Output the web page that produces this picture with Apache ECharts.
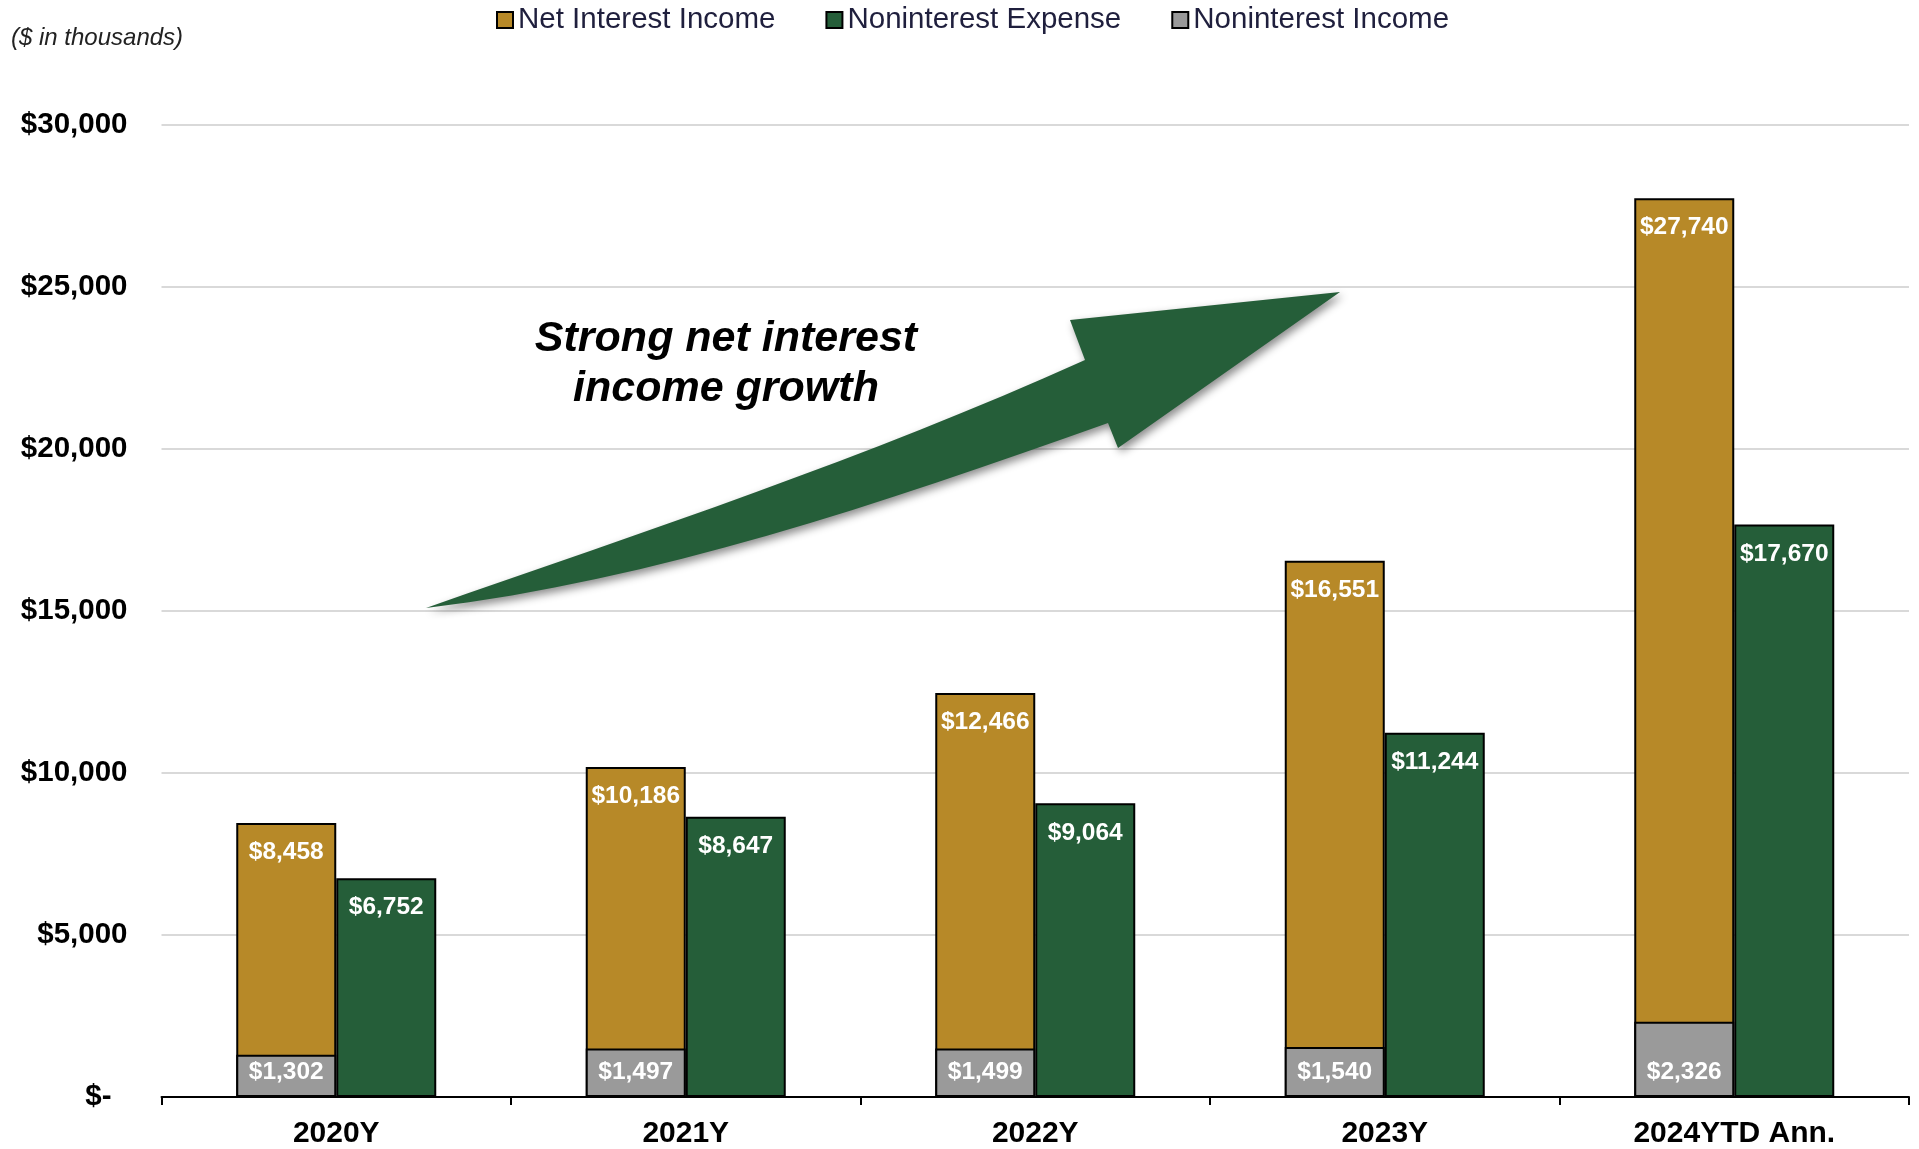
<!DOCTYPE html>
<html>
<head>
<meta charset="utf-8">
<title>Net Interest Income vs. Noninterest Expense</title>
<script src="https://cdn.jsdelivr.net/npm/echarts@6/dist/echarts.min.js"></script>
<style>
  html, body { margin: 0; padding: 0; background: #ffffff; }
  #chart { width: 1919px; height: 1149px; }
</style>
</head>
<body>
<div id="chart"></div>
<script>
// Annual figures, $ in thousands
const categories = ['2020Y', '2021Y', '2022Y', '2023Y', '2024YTD Ann.'];
const netInterestIncome = [8458, 10186, 12466, 16551, 27740];
const noninterestExpense = [6752, 8647, 9064, 11244, 17670];
const noninterestIncome = [1302, 1497, 1499, 1540, 2326];

const FONT = '"Liberation Sans", Arial, Helvetica, sans-serif';
const GOLD = '#B78928';
const GREEN = '#255E39';
const GREY = '#9A9A9A';

const money = v => '$' + Number(v).toLocaleString('en-US');

// Curved "growth" arrow used as an annotation shape
echarts.graphic.registerShape('growthArrow', echarts.graphic.extendShape({
  shape: {},
  buildPath: function (ctx) {
    ctx.moveTo(426, 608);
    ctx.bezierCurveTo(646, 531, 865, 459, 1085, 360);
    ctx.lineTo(1070, 320);
    ctx.lineTo(1340, 292);
    ctx.lineTo(1118, 448);
    ctx.lineTo(1108, 423);
    ctx.bezierCurveTo(878, 505, 656, 580, 426, 608);
    ctx.closePath();
  }
}));

const valueLabel = (position, distance) => ({
  show: true,
  position: position,
  distance: distance,
  color: '#ffffff',
  fontFamily: FONT,
  fontWeight: 'bold',
  fontSize: 24.5,
  formatter: p => money(p.value)
});

const barBase = {
  type: 'bar',
  barWidth: 100,
  barGap: '0%'
};

const chart = echarts.init(document.getElementById('chart'), null, { renderer: 'canvas' });

chart.setOption({
  animation: false,
  backgroundColor: '#ffffff',
  textStyle: { fontFamily: FONT },
  legend: {
    data: ['Net Interest Income', 'Noninterest Expense', 'Noninterest Income'],
    left: 491,
    top: 0,
    itemWidth: 16,
    itemHeight: 16,
    itemGap: 50,
    icon: 'rect',
    textStyle: { fontFamily: FONT, fontSize: 29.5, color: '#1F1F3D' }
  },
  grid: { left: 161.5, right: 10, top: 125, bottom: 48, containLabel: false },
  xAxis: [
    {
      type: 'category',
      data: categories,
      axisLine: { lineStyle: { color: '#000000', width: 2 } },
      axisTick: { show: true, length: 8, lineStyle: { color: '#000000', width: 2 } },
      axisLabel: {
        margin: 22,
        color: '#000000',
        fontFamily: FONT,
        fontWeight: 'bold',
        fontSize: 30
      }
    },
    {
      // companion axis so the noninterest income bar sits over the gold bar
      type: 'category',
      data: categories,
      position: 'bottom',
      show: false
    }
  ],
  yAxis: {
    type: 'value',
    min: 0,
    max: 30000,
    interval: 5000,
    axisLine: { show: false },
    axisTick: { show: false },
    splitLine: { lineStyle: { color: '#D9D9D9', width: 2 } },
    axisLabel: {
      margin: 34,
      color: '#000000',
      fontFamily: FONT,
      fontWeight: 'bold',
      fontSize: 29.5,
      formatter: v => (v === 0 ? '{z|$-}' : money(v)),
      rich: {
        z: { fontFamily: FONT, fontWeight: 'bold', fontSize: 29.5, color: '#000000', padding: [0, 16, 0, 0] }
      }
    }
  },
  series: [
    Object.assign({}, barBase, {
      name: 'Net Interest Income',
      xAxisIndex: 0,
      data: netInterestIncome,
      z: 2,
      itemStyle: { color: GOLD, borderColor: '#000000', borderWidth: 2 },
      label: valueLabel('insideTop', 17)
    }),
    Object.assign({}, barBase, {
      name: 'Noninterest Expense',
      xAxisIndex: 0,
      data: noninterestExpense,
      z: 2,
      itemStyle: { color: GREEN, borderColor: '#000000', borderWidth: 2 },
      label: valueLabel('insideTop', 17)
    }),
    Object.assign({}, barBase, {
      name: 'Noninterest Income',
      xAxisIndex: 1,
      data: noninterestIncome,
      z: 3,
      itemStyle: { color: GREY, borderColor: '#000000', borderWidth: 2 },
      label: valueLabel('insideBottom', 12)
    }),
    Object.assign({}, barBase, {
      // empty slot on the companion axis, keeps the grey bar on the left
      name: 'slot',
      xAxisIndex: 1,
      data: categories.map(() => '-'),
      silent: true,
      itemStyle: { color: 'transparent', borderWidth: 0 }
    })
  ],
  graphic: [
    {
      type: 'text',
      left: 11,
      top: 26,
      style: {
        text: '($ in thousands)',
        fontFamily: FONT,
        fontStyle: 'italic',
        fontSize: 24,
        fill: '#222222'
      }
    },
    {
      type: 'growthArrow',
      z: 10,
      shape: {},
      style: {
        fill: GREEN,
        shadowBlur: 8,
        shadowOffsetX: 3,
        shadowOffsetY: 4,
        shadowColor: 'rgba(0,0,0,0.45)'
      }
    },
    {
      type: 'text',
      z: 11,
      x: 726,
      y: 364,
      style: {
        text: 'Strong net interest\nincome growth',
        fontFamily: FONT,
        fontStyle: 'italic',
        fontWeight: 'bold',
        fontSize: 43,
        lineHeight: 50,
        fill: '#000000',
        align: 'center',
        verticalAlign: 'middle'
      }
    }
  ]
});
</script>
</body>
</html>
